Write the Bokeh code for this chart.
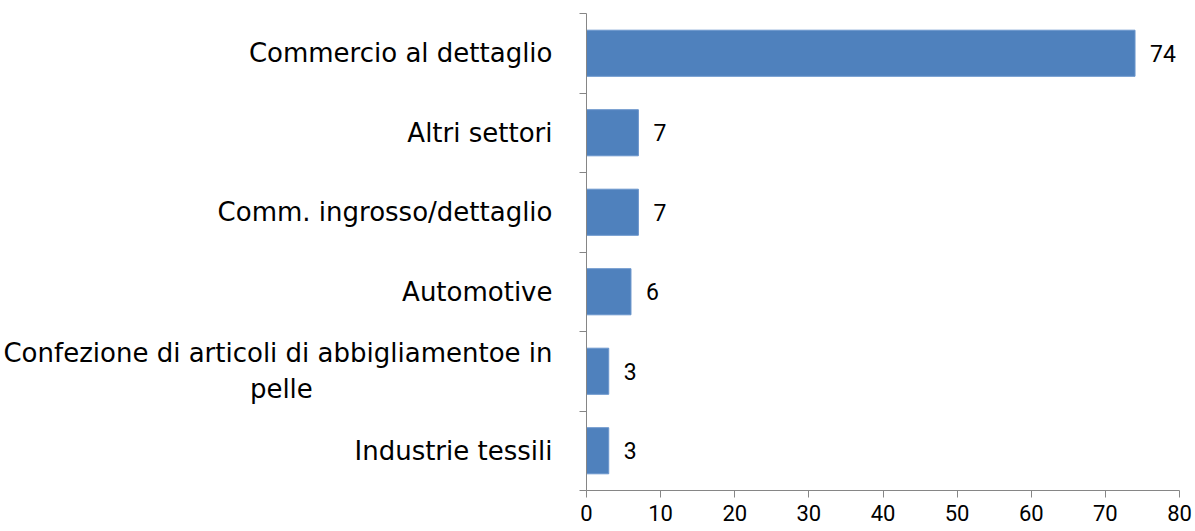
from bokeh.plotting import figure
from bokeh.models import FixedTicker, Range1d, ColumnDataSource
from bokeh.embed import file_html
from bokeh.resources import INLINE
from bokeh.core.properties import value

PAD = "\u00a0" * 29  # centres the wrapped second line under the first

categories = ["Industrie tessili",
              "Confezione di articoli di abbigliamentoe in\npelle" + PAD,
              "Automotive",
              "Comm. ingrosso/dettaglio",
              "Altri settori",
              "Commercio al dettaglio"]
values = [3, 3, 6, 7, 7, 74]
x_ticks = [0, 10, 20, 30, 40, 50, 60, 70, 80]

n = len(categories)
ypos = [i + 0.5 for i in range(n)]
src = ColumnDataSource(dict(y=ypos, v=values, lbl=[str(v) for v in values]))

p = figure(width=1195, height=531, output_backend="svg", toolbar_location=None,
           x_range=Range1d(0, 80), y_range=Range1d(0, n),
           min_border_left=584, min_border_right=16, min_border_top=13, min_border_bottom=41)
p.outline_line_color = None
p.grid.grid_line_color = None

p.hbar(y="y", right="v", left=0, height=0.58, source=src,
       fill_color="#4F81BD", line_color="#6A95CC", line_width=1)
p.text(x="v", y="y", text="lbl", source=src, x_offset=15, text_baseline="middle",
       text_align="left", text_font=value("Roboto"), text_font_size="23px",
       text_color="#000000")

ya = p.yaxis[0]
ya.ticker = FixedTicker(ticks=ypos, minor_ticks=list(range(n + 1)))
ya.major_label_overrides = {y: c for y, c in zip(ypos, categories)}
ya.major_tick_out = 0
ya.major_tick_in = 0
ya.minor_tick_out = 7
ya.minor_tick_in = 0
ya.minor_tick_line_color = "#868686"
ya.axis_line_color = "#868686"
ya.axis_line_width = 1
ya.major_label_standoff = 27
ya.major_label_text_font = "DejaVu Sans"
ya.major_label_text_font_size = "26px"
ya.major_label_text_color = "#000000"

xa = p.xaxis[0]
xa.ticker = FixedTicker(ticks=x_ticks)
xa.minor_tick_line_color = None
xa.major_tick_out = 7
xa.major_tick_in = 0
xa.major_tick_line_color = "#868686"
xa.axis_line_color = "#868686"
xa.major_label_standoff = 7
xa.major_label_text_font = "Roboto"
xa.major_label_text_font_size = "22px"
xa.major_label_text_color = "#000000"

open("out.html", "w").write(file_html(p, INLINE))
